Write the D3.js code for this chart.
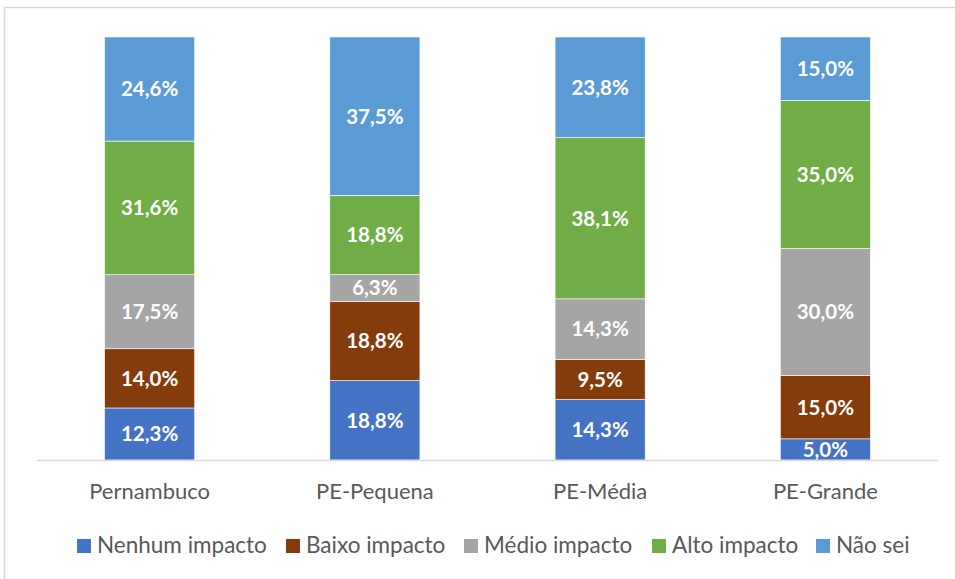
<!DOCTYPE html>
<html>
<head>
<meta charset="utf-8">
<script src="https://cdn.jsdelivr.net/npm/d3@7"></script>
<style>
  html, body { margin: 0; padding: 0; background: #fff; }
  svg { display: block; }
  text { font-family: Lato, "Open Sans", sans-serif; }
</style>
</head>
<body>
<svg id="chart" width="955" height="579"></svg>
<script>
const categories = ["Pernambuco", "PE-Pequena", "PE-Média", "PE-Grande"];
const seriesNames = ["Nenhum impacto", "Baixo impacto", "Médio impacto", "Alto impacto", "Não sei"];
const nenhum = [12.3, 18.8, 14.3, 5.0];
const baixo  = [14.0, 18.8, 9.5, 15.0];
const medio  = [17.5, 6.3, 14.3, 30.0];
const alto   = [31.6, 18.8, 38.1, 35.0];
const naoSei = [24.6, 37.5, 23.8, 15.0];
const colors = ["#4472C4", "#843C0C", "#A5A5A5", "#70AD47", "#5B9BD5"];

const seriesValues = [nenhum, baixo, medio, alto, naoSei];
const table = categories.map((c, i) => {
  const row = { cat: c };
  seriesNames.forEach((s, j) => row[s] = seriesValues[j][i]);
  return row;
});

const svg = d3.select("#chart");
const W = 955, H = 579;
const plot = { left: 37, right: 938, top: 37, bottom: 460 };

// outer border
svg.append("rect").attr("x", 4.5).attr("y", 7.5).attr("width", W + 10).attr("height", H + 10)
  .attr("fill", "none").attr("stroke", "#D9D9D9").attr("stroke-width", 1.5);

const x = d3.scaleBand().domain(categories).range([plot.left, plot.right])
  .paddingInner(0.6).paddingOuter(0.3);
const y = d3.scaleLinear().domain([0, 1]).range([plot.bottom, plot.top]);

const stack = d3.stack().keys(seriesNames).offset(d3.stackOffsetExpand);
const stacked = stack(table);

const g = svg.append("g");
stacked.forEach((layer, j) => {
  const lg = g.append("g");
  lg.selectAll("rect").data(layer).join("rect")
    .attr("x", d => x(d.data.cat))
    .attr("width", x.bandwidth())
    .attr("y", d => y(d[1]))
    .attr("height", d => y(d[0]) - y(d[1]))
    .attr("fill", colors[j])
    .attr("stroke", "#fff").attr("stroke-width", 0.6);
});

// baseline
svg.append("line").attr("x1", plot.left).attr("x2", plot.right)
  .attr("y1", plot.bottom + 0.5).attr("y2", plot.bottom + 0.5)
  .attr("stroke", "#D9D9D9").attr("stroke-width", 1.5);

// data labels
stacked.forEach((layer, j) => {
  g.append("g").selectAll("text").data(layer).join("text")
    .attr("x", d => x(d.data.cat) + x.bandwidth() / 2)
    .attr("y", d => (y(d[0]) + y(d[1])) / 2)
    .attr("dy", "0.36em")
    .attr("text-anchor", "middle")
    .attr("fill", "#fff")
    .attr("font-weight", "bold")
    .attr("font-size", 20.5)
    .text(d => d.data[seriesNames[j]].toFixed(1).replace(".", ",") + "%");
});

// x axis labels
const xAxis = d3.axisBottom(x).tickSize(0).tickPadding(0);
const ax = svg.append("g").attr("transform", `translate(0, ${plot.bottom})`).call(xAxis);
ax.select(".domain").remove();
ax.selectAll("text").attr("font-size", 22).attr("fill", "#595959")
  .attr("dy", 0).attr("y", 39);

// legend
const legendX = [77, 286, 464, 652, 816];
const lg = svg.append("g");
seriesNames.forEach((s, j) => {
  const item = lg.append("g").attr("transform", `translate(${legendX[j]}, 539)`);
  item.append("rect").attr("width", 14).attr("height", 14).attr("fill", colors[j]);
  item.append("text").attr("x", 20).attr("y", 14).attr("font-size", 22.5)
    .attr("fill", "#595959").text(s);
});
</script>
</body>
</html>
